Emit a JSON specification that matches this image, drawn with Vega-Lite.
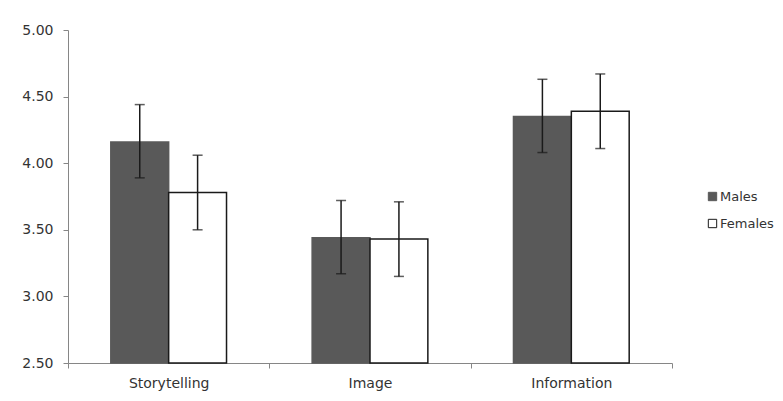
{
  "$schema": "https://vega.github.io/schema/vega-lite/v6.json",
  "width": 604,
  "height": 333,
  "autosize": {"type": "none"},
  "padding": {"left": 68, "top": 30, "right": 111, "bottom": 38},
  "background": "white",
  "config": {
    "view": {"stroke": null},
    "font": "DejaVu Sans",
    "axis": {"domainColor": "#868686", "tickColor": "#868686", "labelColor": "#333333", "grid": false, "title": null, "tickSize": 5, "domainWidth": 1, "tickWidth": 1}
  },
  "data": {
    "values": [
      {"category": "Storytelling", "sex": "Males", "mean": 4.16, "lo": 3.89, "hi": 4.44},
      {"category": "Storytelling", "sex": "Females", "mean": 3.78, "lo": 3.50, "hi": 4.06},
      {"category": "Image", "sex": "Males", "mean": 3.44, "lo": 3.17, "hi": 3.72},
      {"category": "Image", "sex": "Females", "mean": 3.43, "lo": 3.15, "hi": 3.71},
      {"category": "Information", "sex": "Males", "mean": 4.35, "lo": 4.08, "hi": 4.63},
      {"category": "Information", "sex": "Females", "mean": 4.39, "lo": 4.11, "hi": 4.67}
    ]
  },
  "encoding": {
    "x": {
      "field": "category", "type": "nominal", "sort": ["Storytelling", "Image", "Information"],
      "scale": {"paddingInner": 0, "paddingOuter": 0},
      "axis": {"labelAngle": 0, "tickBand": "extent", "labelFontSize": 14, "labelPadding": 8}
    },
    "xOffset": {
      "field": "sex", "type": "nominal", "sort": ["Males", "Females"],
      "scale": {"paddingInner": 0, "paddingOuter": 0.74}
    }
  },
  "layer": [
    {
      "mark": {"type": "bar", "strokeWidth": 1.5},
      "encoding": {
        "y": {
          "field": "mean", "type": "quantitative",
          "scale": {"domain": [2.5, 5], "zero": false, "nice": false},
          "axis": {"values": [2.5, 3, 3.5, 4, 4.5, 5], "format": ".2f", "labelFontSize": 14, "labelPadding": 10}
        },
        "y2": {"datum": 2.5},
        "fill": {
          "field": "sex", "type": "nominal", "sort": ["Males", "Females"],
          "scale": {"domain": ["Males", "Females"], "range": ["#595959", "#ffffff"]},
          "legend": {"title": null, "orient": "none", "legendX": 638, "legendY": 160, "symbolType": "square", "symbolSize": 70, "symbolStrokeWidth": 1, "labelFontSize": 13, "labelColor": "#333333", "rowPadding": 13, "padding": 0, "labelOffset": 1}
        },
        "stroke": {
          "field": "sex", "type": "nominal", "sort": ["Males", "Females"],
          "scale": {"domain": ["Males", "Females"], "range": ["#595959", "#1a1a1a"]},
          "legend": null
        }
      }
    },
    {
      "mark": {"type": "rule", "color": "#1a1a1a", "strokeWidth": 1.5},
      "encoding": {
        "y": {"field": "lo", "type": "quantitative"},
        "y2": {"field": "hi"}
      }
    },
    {
      "mark": {"type": "tick", "color": "#1a1a1a", "orient": "horizontal", "size": 10, "thickness": 1.5},
      "encoding": {"y": {"field": "lo", "type": "quantitative"}}
    },
    {
      "mark": {"type": "tick", "color": "#1a1a1a", "orient": "horizontal", "size": 10, "thickness": 1.5},
      "encoding": {"y": {"field": "hi", "type": "quantitative"}}
    }
  ]
}
